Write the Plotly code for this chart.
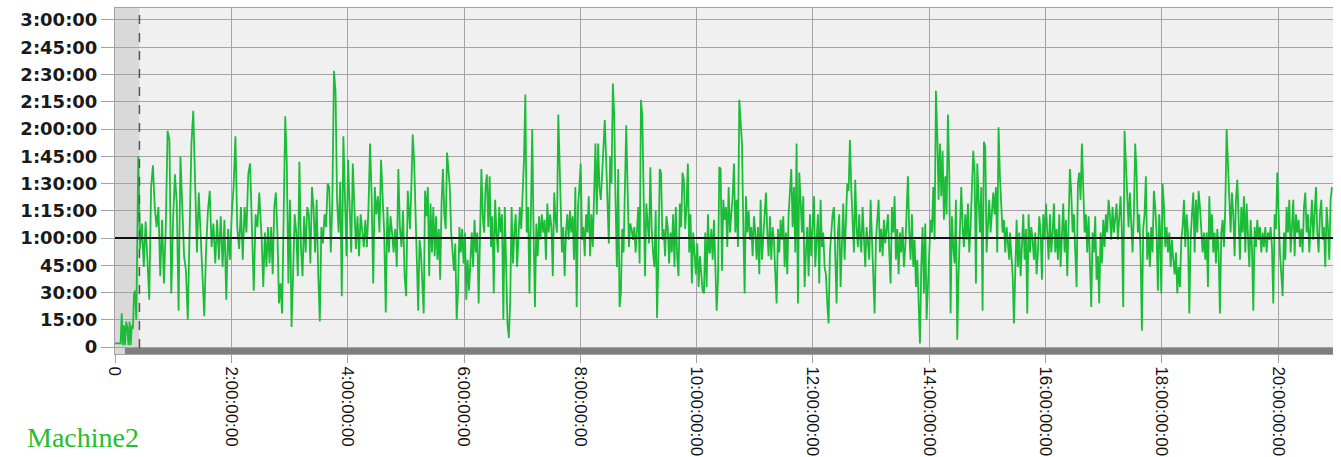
import numpy as np
import plotly.graph_objects as go

# Machine2 cycle duration (minutes) sampled along the run time axis.
# Each block: (start time, end time) and the readings taken evenly across it.
startup_span = (0.0, 0.385)
startup_min = [2, 2, 2, 2, 2, 2, 18.5, 1, 12, 1, 14, 11, 1, 14, 1, 12, 10, 29.5, 31, 15, 63]

block_a_span = (0.40, 2.48)
block_a_min = [105, 54, 68, 44, 69, 48, 26, 88, 100, 77, 66, 77, 39, 70, 35, 66, 119, 114, 29.5, 70,
               95, 79, 20, 105, 73, 50, 42, 15, 63, 112, 130, 90, 52, 85, 65, 40, 17, 54, 75, 86,
               55, 68, 46, 70, 48, 72, 44, 70, 26, 65, 48, 73, 88, 116, 66, 54, 77, 48, 77, 63,
               95, 101, 63, 31, 73, 66, 85]

block_b_span = (2.522, 5.06)
block_b_min = [59, 33, 63, 44, 66, 46, 66, 40, 77, 85, 63, 24, 35, 18.5, 77, 127, 101, 35, 81, 11,
               40, 73, 63, 39, 102, 55, 39, 72, 52, 77, 73, 46, 88, 77, 52, 81, 40, 14, 66, 57,
               73, 66, 90, 88, 52, 81, 152, 141, 81, 63, 91, 28, 116, 81, 50, 103, 77, 52, 101, 81,
               54, 72, 50, 73, 65, 55, 70, 55, 77, 112, 83, 35, 88, 73, 83, 63, 103, 77, 63, 19,
               77, 52, 72, 63, 52, 65, 44, 98, 66, 55, 75, 39, 28, 86, 73]

block_c_span = (5.071, 7.645)
block_c_min = [65, 88, 117, 103, 66, 48, 20, 59, 52, 29.5, 18.5, 86, 72, 88, 39, 79, 52, 77, 50, 72,
               48, 65, 37, 79, 98, 73, 65, 107, 99, 88, 63, 50, 42, 57, 15, 31, 66, 52, 65, 46,
               63, 26, 48, 31, 52, 63, 44, 70, 52, 63, 24, 66, 98, 72, 63, 88, 95, 66, 94, 55,
               72, 29.5, 81, 63, 52, 77, 63, 73, 15, 77, 48, 13, 5, 26, 77, 46, 63, 73, 44, 59,
               77, 65, 86, 103, 139, 63, 77, 29.5, 72, 120, 63, 22, 68, 50, 72, 59, 73, 63, 70, 48,
               79, 63, 73, 66, 39, 85, 70, 63, 128, 103]

block_d_span = (7.684, 10.217)
block_d_min = [52, 66, 39, 63, 73, 59, 75, 63, 72, 48, 88, 22, 77, 88, 101, 59, 66, 50,
               73, 63, 83, 50, 73, 55, 79, 112, 73, 112, 88, 81, 95, 110, 125, 103, 79, 57, 105, 90,
               145, 128, 81, 44, 98, 22, 29.5, 65, 52, 86, 122, 88, 55, 68, 65, 59, 66, 52, 63, 77,
               46, 136, 127, 72, 39, 79, 66, 57, 99, 65, 52, 44, 75, 16, 48, 98, 96, 59, 65, 50,
               72, 66, 46, 63, 52, 73, 44, 77, 50, 39, 79, 66, 96, 92, 65, 77, 101, 52, 73, 35,
               63, 52, 40, 57, 33, 50, 40, 31, 29.5, 63, 33, 73, 52]

block_e_span = (10.229, 12.795)
block_e_min = [52, 65, 48, 70, 44, 20, 37, 99, 98, 42, 81, 70, 77, 55, 88, 63, 73, 83, 101, 63,
               81, 55, 136, 125, 112, 66, 29.5, 83, 63, 75, 59, 66, 50, 72, 63, 48, 66, 40, 81, 48,
               59, 72, 85, 63, 50, 72, 48, 66, 59, 40, 24, 65, 52, 70, 59, 72, 44, 63, 40, 73,
               88, 98, 66, 88, 52, 112, 24, 96, 81, 63, 83, 33, 52, 66, 39, 73, 50, 66, 83, 44,
               59, 73, 35, 81, 55, 63, 44, 40, 24, 13, 52, 63, 73, 77, 48, 24, 63, 73, 33, 52,
               79, 48, 73, 90, 86, 114, 88, 72, 52, 92, 66, 55, 73]

block_f_span = (12.807, 15.374)
block_f_min = [63, 52, 77, 59, 44, 66, 55, 48, 81, 63, 39, 18.5, 59, 73, 81, 52, 65, 50, 70, 57,
               65, 73, 52, 35, 77, 63, 83, 48, 65, 40, 63, 52, 66, 44, 55, 73, 94, 63, 48, 73,
               44, 59, 33, 48, 18.5, 2, 44, 66, 29.5, 68, 15, 33, 59, 70, 63, 88, 59, 141, 117, 81,
               112, 83, 108, 70, 94, 73, 128, 96, 18.5, 72, 55, 46, 81, 4, 40, 63, 88, 66, 55, 73,
               59, 79, 52, 66, 86, 108, 96, 35, 101, 81, 63, 88, 20, 113, 110, 52, 70, 81, 63, 73,
               85, 73, 88, 52, 121, 94, 77, 63, 70, 52, 66, 59, 48]

block_g_span = (15.386, 17.952)
block_g_min = [63, 52, 40, 13, 52, 70, 44, 63, 39, 59, 73, 48, 65, 18.5, 73, 52, 66, 59, 48, 63,
               40, 52, 72, 63, 37, 73, 59, 79, 63, 48, 73, 52, 63, 79, 52, 65, 48, 73, 44, 63,
               79, 52, 70, 39, 63, 98, 85, 63, 73, 52, 33, 90, 96, 81, 112, 88, 63, 73, 52, 72,
               44, 22, 63, 52, 72, 37, 50, 24, 63, 46, 70, 55, 73, 63, 81, 73, 59, 77, 63, 73,
               79, 59, 73, 83, 63, 22, 119, 103, 81, 66, 85, 63, 52, 73, 112, 96, 63, 73, 52, 9,
               65, 73, 94, 48, 63, 44, 66, 52, 86, 77, 63, 31, 73]

block_h_span = (17.965, 20.922)
block_h_min = [66, 29.5, 90, 77, 55, 66, 52, 63, 44, 59, 48, 40, 52, 29.5, 44, 33, 59, 66, 81, 55,
               73, 63, 18.5, 59, 73, 85, 52, 81, 63, 86, 77, 65, 52, 63, 48, 63, 33, 83, 59, 73,
               52, 63, 46, 65, 52, 18.5, 63, 70, 55, 77, 120, 101, 81, 63, 85, 73, 50, 81, 92, 66,
               48, 77, 63, 83, 52, 79, 63, 44, 70, 55, 20, 66, 55, 70, 59, 66, 52, 63, 55, 66,
               52, 63, 59, 66, 55, 24, 73, 65, 96, 73, 52, 40, 28, 63, 48, 77, 63, 81, 52, 66,
               81, 50, 73, 63, 70, 55, 65, 52, 77, 85, 63, 73, 52, 66, 81, 59, 73, 88, 63, 52,
               73, 81, 59, 66, 44, 77, 66, 48, 81, 88]

# axis ticks
x_tickvals = [0, 2, 4, 6, 8, 10, 12, 14, 16, 18, 20]
x_ticktext = ["0", "2:00:00:00", "4:00:00:00", "6:00:00:00", "8:00:00:00", "10:00:00:00",
              "12:00:00:00", "14:00:00:00", "16:00:00:00", "18:00:00:00", "20:00:00:00"]
y_tickvals = [0, 15, 30, 45, 60, 75, 90, 105, 120, 135, 150, 165, 180]
y_ticktext = ["0", "15:00", "30:00", "45:00", "1:00:00", "1:15:00", "1:30:00", "1:45:00",
              "2:00:00", "2:15:00", "2:30:00", "2:45:00", "3:00:00"]

target_min = 60          # reference cycle time
warmup_end = 0.42        # end of the start-up window
timeline_start = 0.17    # start of the run timeline bar

blocks = [
    (startup_span, startup_min), (block_a_span, block_a_min), (block_b_span, block_b_min),
    (block_c_span, block_c_min), (block_d_span, block_d_min), (block_e_span, block_e_min),
    (block_f_span, block_f_min), (block_g_span, block_g_min), (block_h_span, block_h_min),
]
t = np.concatenate([np.linspace(a, b, len(v)) for (a, b), v in blocks])
vals = np.concatenate([np.asarray(v, dtype=float) for _, v in blocks])

X_MAX = 20.94
Y_MIN, Y_MAX = -3.85, 186.6

fig = go.Figure()
fig.add_trace(go.Scatter(
    x=t, y=vals, mode="lines",
    line=dict(color="#1bbd38", width=1.8),
    showlegend=False, hoverinfo="skip",
))

grid = "#a3a3a3"
fig.update_layout(
    width=1341, height=457,
    margin=dict(l=115, r=8, t=8, b=103),
    paper_bgcolor="white",
    plot_bgcolor="#f0f0f0",
    xaxis=dict(
        range=[0, X_MAX], tickvals=x_tickvals, ticktext=x_ticktext, tickangle=90,
        showgrid=True, gridcolor=grid, gridwidth=1, zeroline=False,
        ticks="outside", ticklen=8, tickcolor=grid, automargin=False,
        showline=True, linecolor=grid, mirror=True,
        tickfont=dict(family="Liberation Sans, Arial, sans-serif", size=17, color="#111111"),
    ),
    yaxis=dict(
        range=[Y_MIN, Y_MAX], tickvals=y_tickvals, ticktext=y_ticktext,
        showgrid=True, gridcolor=grid, gridwidth=1, zeroline=False,
        ticks="outside", ticklen=13, tickcolor=grid, automargin=False,
        showline=True, linecolor=grid, mirror=False,
        tickfont=dict(family="DejaVu Sans, sans-serif", size=18, color="#1a1a1a", weight="bold"),
    ),
    shapes=[
        dict(type="rect", xref="x", yref="paper", x0=0, x1=warmup_end, y0=0, y1=1,
             fillcolor="#d9d9d9", line=dict(width=0), layer="below"),
        dict(type="line", xref="paper", yref="y", x0=0, x1=1, y0=target_min, y1=target_min,
             line=dict(color="#111111", width=2), layer="above"),
        dict(type="line", xref="x", yref="paper", x0=warmup_end, x1=warmup_end, y0=0.017, y1=1,
             line=dict(color="#555555", width=1.5, dash="dash"), layer="above"),
        dict(type="rect", xref="x", yref="paper", x0=timeline_start, x1=X_MAX, y0=0, y1=0.0175,
             fillcolor="#7f7f7f", line=dict(width=0), layer="above"),
    ],
    annotations=[
        dict(text="Machine2", xref="paper", yref="paper", x=-0.0735, y=-0.24,
             xanchor="left", yanchor="middle", showarrow=False,
             font=dict(family="Liberation Serif, Times New Roman, serif", size=28, color="#22c02a")),
    ],
)

fig.write_html("out.html")
